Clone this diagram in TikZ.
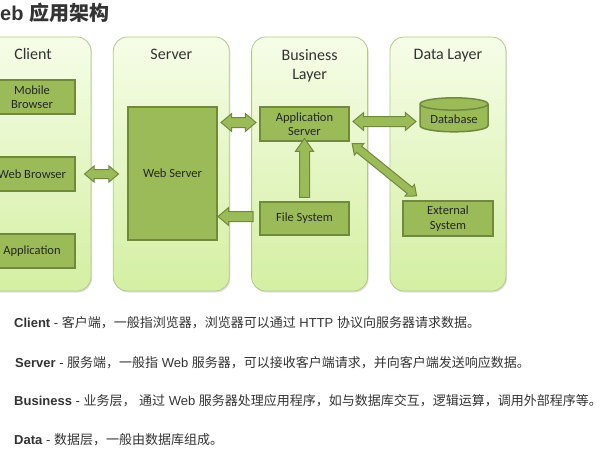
\documentclass[tikz,border=0pt]{standalone}
\usepackage{fontspec}
\setmainfont{Liberation Sans}
\newfontfamily\cjk{Noto Sans CJK SC}
\newfontfamily\diafont{Carlito}
\usetikzlibrary{positioning, shapes.arrows, shapes.geometric, shadows}

\definecolor{layerline}{HTML}{B2C98A}
\definecolor{layertop}{HTML}{F6FDE8}
\definecolor{layerbot}{HTML}{D4EFA2}
\definecolor{boxfill}{HTML}{9BBB59}
\definecolor{boxline}{HTML}{71893F}
\definecolor{dbtop}{HTML}{C3D69B}
\definecolor{txtgrey}{HTML}{333333}

\begin{document}
\begin{tikzpicture}[x = 1pt, y = -1pt, node distance = 21.5pt,
  layer/.style = {draw = layerline, line width = 0.8pt, rounded corners = 14pt,
    top color = layertop, bottom color = layerbot,
    minimum width = 116pt, minimum height = 254pt,
    drop shadow = {shadow xshift = 1pt, shadow yshift = -1.5pt, opacity = 0.25}},
  layertitle/.style = {font = \diafont\fontsize{16}{19}\selectfont, text = black!80, align = center},
  box/.style = {draw = boxline, line width = 1.5pt, fill = boxfill, inner sep = 1pt,
    font = \diafont\fontsize{12.5}{14.5}\selectfont, text = black!85, align = center},
  dbl/.style = {double arrow, draw = boxline, fill = boxfill, line width = 1pt,
    double arrow tip angle = 80, inner xsep = 0pt, inner ysep = 4pt,
    double arrow head extend = 4pt},
  sgl/.style = {single arrow, draw = boxline, fill = boxfill, line width = 1pt,
    single arrow tip angle = 80, inner xsep = 0pt, inner ysep = 4.5pt,
    single arrow head extend = 4pt, sloped, allow upside down},
  desc/.style = {anchor = west, inner sep = 0pt, text = txtgrey, font = \fontsize{13}{15}\selectfont}]

  \useasboundingbox (0,0) rectangle (613,460);
  \clip (0,0) rectangle (613,460);

  \node[anchor = west, inner sep = 0pt, text = txtgrey, font = \bfseries\fontsize{20}{24}\selectfont]
    (title) at (0,13) {eb {\cjk\bfseries 应用架构}};

  % the four layers
  \node[layer] (cli) at (33,164) {};
  \node[layer, right = of cli] (srv) {};
  \node[layer, right = of srv] (bus) {};
  \node[layer, right = of bus] (dat) {};

  \node[layertitle, anchor = base] (tcli) at ([yshift = -23pt]cli.north) {Client};
  \node[layertitle, anchor = base] (tsrv) at ([yshift = -23pt]srv.north) {Server};
  \node[layertitle] (tbus) at ([yshift = -29.5pt]bus.north) {Business\\Layer};
  \node[layertitle, anchor = base] (tdat) at ([yshift = -23pt]dat.north) {Data Layer};

  % boxes
  \node[box, minimum width = 86pt, minimum height = 34pt] (mb) at (32,97) {Mobile\\Browser};
  \node[box, minimum width = 86pt, minimum height = 34pt] (wb) at (32,174) {Web Browser};
  \node[box, minimum width = 86pt, minimum height = 34pt] (ap) at (32,251) {Application};
  \node[box, minimum width = 89pt, minimum height = 133pt] (ws) at (172.5,173.5) {Web Server};
  \node[box, minimum width = 89pt, minimum height = 34pt] (app) at (304.5,124) {Application\\Server};
  \node[box, minimum width = 89pt, minimum height = 33pt] (fs) at (304.5,218.5) {File System};
  \node[box, shape = cylinder, shape border rotate = 90, aspect = 0.25,
    cylinder uses custom fill, cylinder body fill = boxfill, cylinder end fill = dbtop,
    minimum width = 68pt, minimum height = 34pt] (db) at (454,119) {Database};
  \node[box, minimum width = 90pt, minimum height = 35pt] (ext) at (448,218.5) {External\\System};

  % block arrows
  \path (wb.east) -- (wb.east -| ws.west) node[dbl, midway, minimum height = 34pt,
    double arrow head extend = 3.5pt] (a1) {};
  \path (ws.east |- app) -- (app.west) node[dbl, midway, yshift = 1.5pt, minimum height = 35pt,
    inner ysep = 4.5pt] (a2) {};
  \path (app.east) -- (db.west) node[dbl, midway, minimum height = 63pt,
    inner ysep = 4.5pt] (a3) {};
  \path (app.south east) -- (ext.145) node[dbl, sloped, allow upside down, pos = 0.48,
    minimum height = 83pt, inner ysep = 3.5pt, double arrow head extend = 3.5pt] (a4) {};
  \path (fs.north) -- (app.south) node[sgl, midway, minimum height = 59pt,
    single arrow tip angle = 70] (a5) {};
  \path (fs.west) -- (fs.west -| ws.east) node[sgl, midway, yshift = -2pt, minimum height = 35pt] (a6) {};

  % notes below
  \node[desc] (dcli) at (14,323) {\textbf{Client} - {\cjk 客户端，一般指浏览器，浏览器可以通过} HTTP {\cjk 协议向服务器请求数据。}};
  \node[desc] (dsrv) at (15,363) {\textbf{Server} - {\cjk 服务端，一般指} Web {\cjk 服务器，可以接收客户端请求，并向客户端发送响应数据。}};
  \node[desc] (dbus) at (14,401) {\textbf{Business} - {\cjk 业务层，} {\cjk 通过} Web {\cjk 服务器处理应用程序，如与数据库交互，逻辑运算，调用外部程序等。}};
  \node[desc] (ddat) at (14,440) {\textbf{Data} - {\cjk 数据层，一般由数据库组成。}};
\end{tikzpicture}
\end{document}
